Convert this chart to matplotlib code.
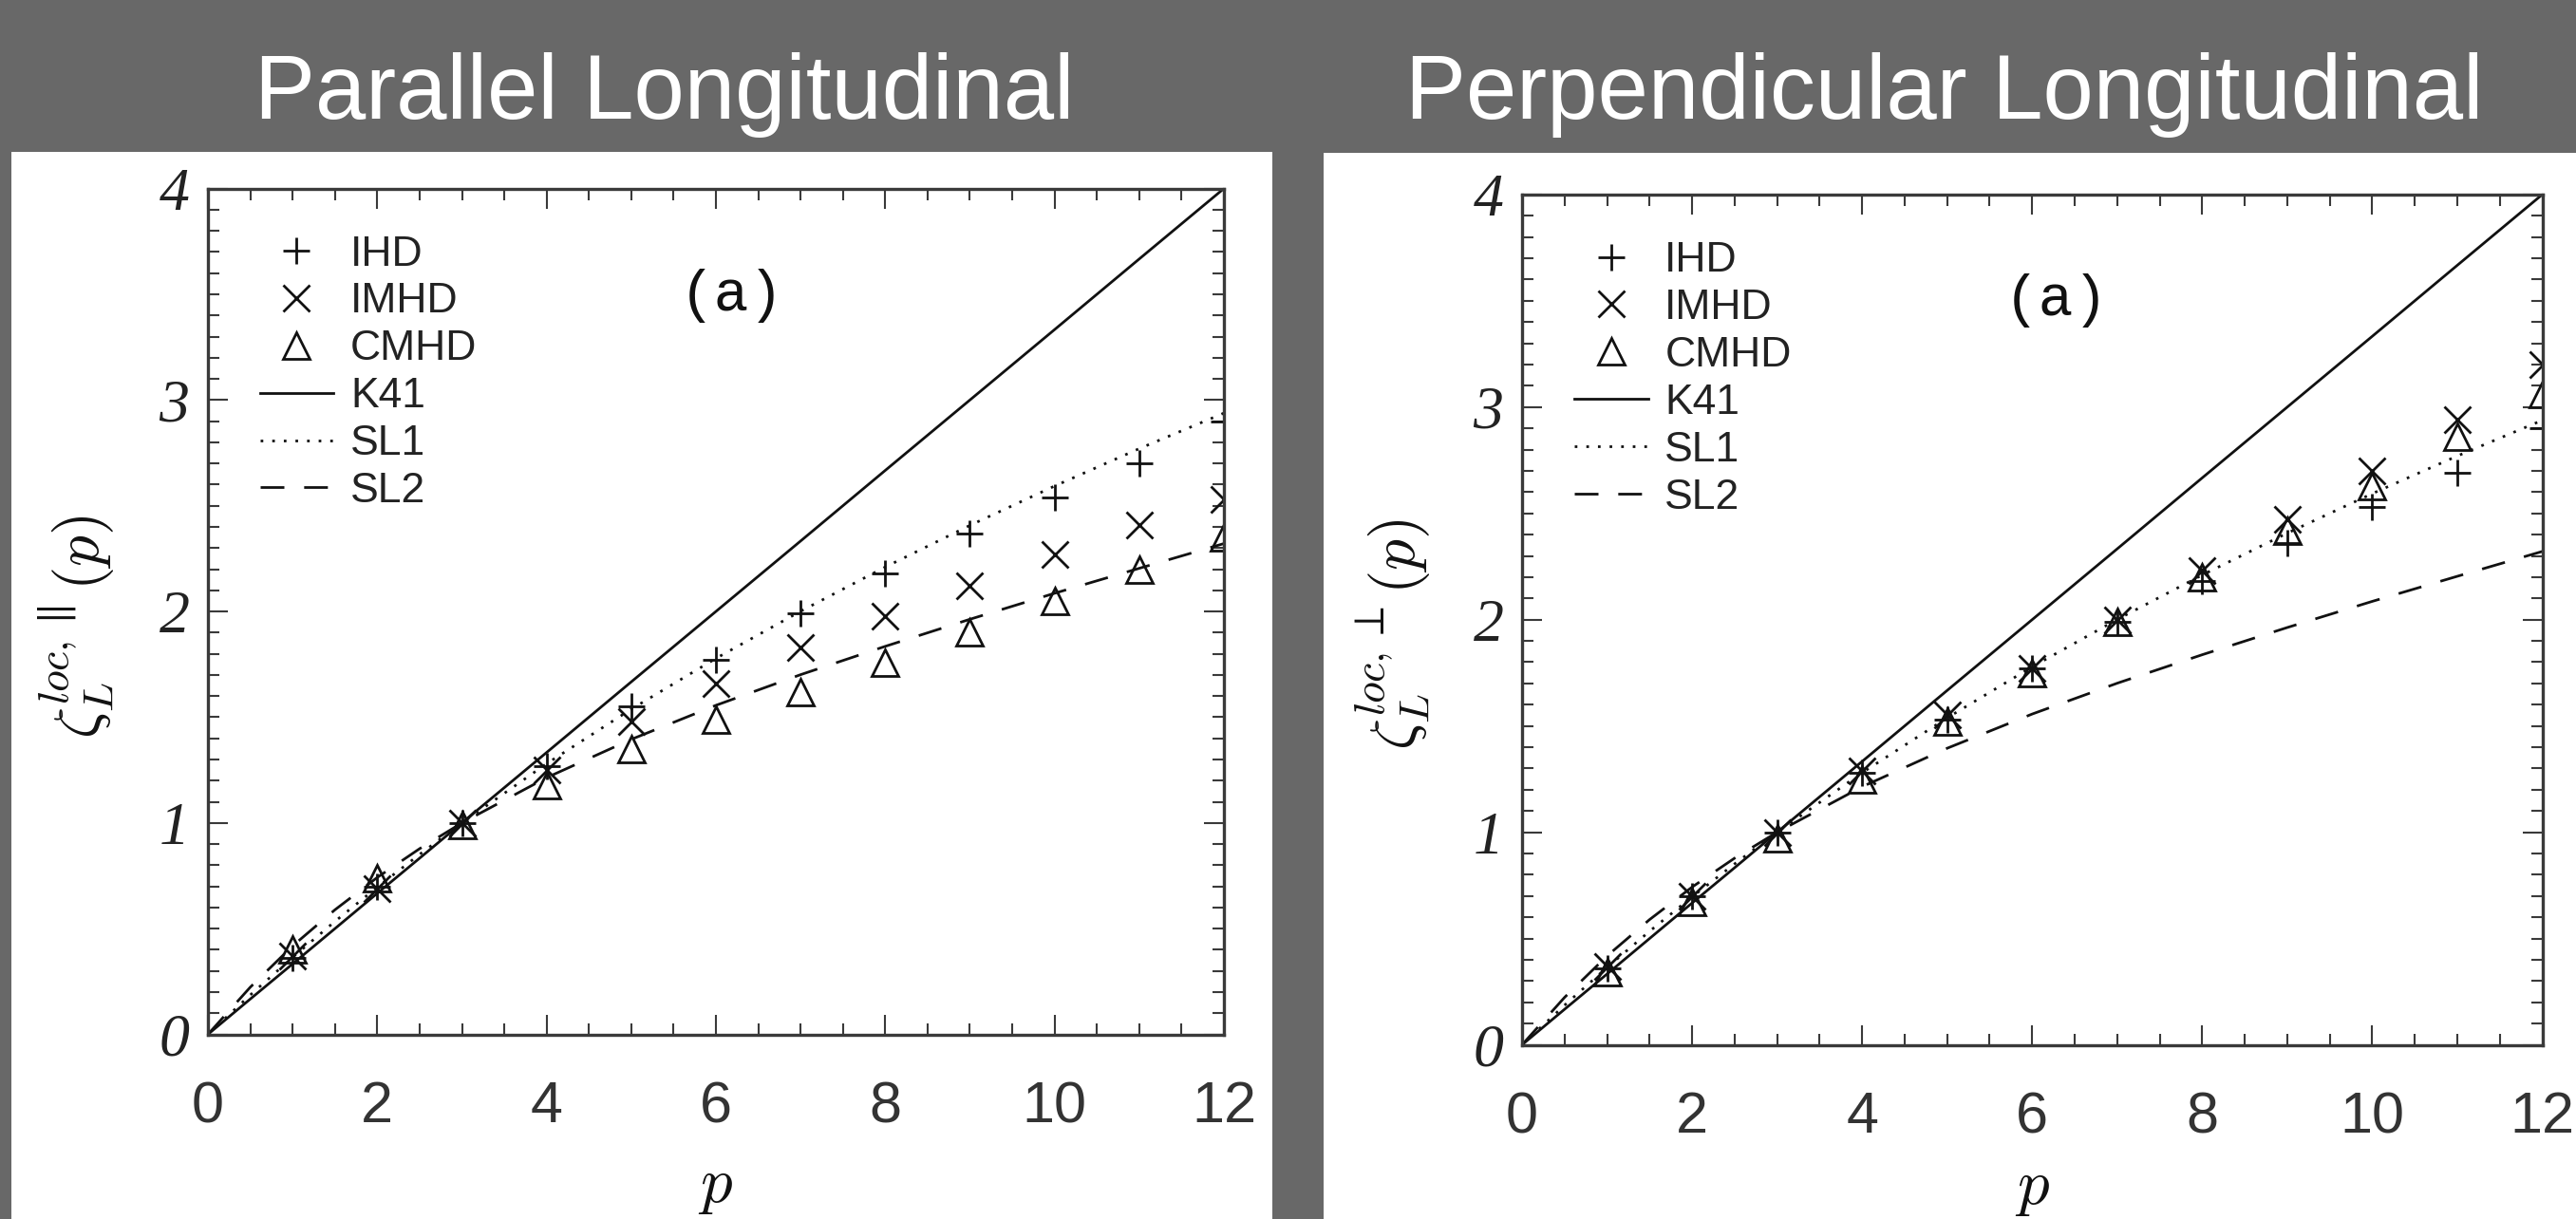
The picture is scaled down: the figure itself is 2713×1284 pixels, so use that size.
import matplotlib
matplotlib.use('Agg')
import matplotlib.pyplot as plt
from matplotlib.patches import Rectangle
from matplotlib.lines import Line2D
from matplotlib.ticker import MultipleLocator

plt.rcParams['mathtext.fontset'] = 'cm'

# ---------------- data ----------------
p_obs = [1, 2, 3, 4, 5, 6, 7, 8, 9, 10, 11, 12]

par_ihd = [0.36, 0.70, 1.00, 1.27, 1.55, 1.77, 1.99, 2.18, 2.37, 2.54, 2.70, 2.90]
par_imhd = [0.37, 0.69, 1.00, 1.25, 1.48, 1.66, 1.83, 1.98, 2.12, 2.27, 2.41, 2.53]
par_cmhd = [0.40, 0.74, 0.99, 1.18, 1.35, 1.49, 1.62, 1.76, 1.90, 2.05, 2.20, 2.35]

perp_ihd = [0.36, 0.70, 1.00, 1.28, 1.53, 1.77, 1.99, 2.18, 2.36, 2.53, 2.69, 2.90]
perp_imhd = [0.37, 0.70, 1.00, 1.29, 1.55, 1.77, 2.00, 2.23, 2.47, 2.70, 2.94, 3.20]
perp_cmhd = [0.34, 0.67, 0.97, 1.25, 1.52, 1.75, 1.99, 2.20, 2.42, 2.63, 2.86, 3.06]

p_model = [0, 0.5, 1, 1.5, 2, 2.5, 3, 4, 5, 6, 7, 8, 9, 10, 11, 12]
k41 = [0, 0.167, 0.333, 0.5, 0.667, 0.833, 1.0, 1.333, 1.667, 2.0, 2.333, 2.667, 3.0, 3.333, 3.667, 4.0]
sl1 = [0, 0.186, 0.364, 0.534, 0.696, 0.851, 1.0, 1.280, 1.538, 1.778, 2.001, 2.210, 2.407, 2.593, 2.770, 2.938]
sl2 = [0, 0.223, 0.418, 0.589, 0.742, 0.878, 1.0, 1.214, 1.395, 1.556, 1.701, 1.835, 1.963, 2.086, 2.204, 2.321]

x_ticks = [0, 2, 4, 6, 8, 10, 12]
y_ticks = [0, 1, 2, 3, 4]
legend_labels = ['IHD', 'IMHD', 'CMHD', 'K41', 'SL1', 'SL2']
titles = ['Parallel Longitudinal', 'Perpendicular Longitudinal']
ylabels = [r'$\zeta_{L}^{loc,\parallel}(p)$', r'$\zeta_{L}^{loc,\perp}(p)$']
xlabel = r'$p$'
panel_tag = '(a)'

# ---------------- figure ----------------
W, H = 2713, 1284
fig = plt.figure(figsize=(W / 100, H / 100), dpi=100)
fig.patch.set_facecolor('#686868')

def fx(px):
    return px / W

def fy(py):
    return 1 - py / H

# white panels
fig.add_artist(Rectangle((fx(12), 0), fx(1340) - fx(12), fy(160), transform=fig.transFigure,
                         facecolor='white', edgecolor='none', zorder=-5))
fig.add_artist(Rectangle((fx(1394), 0), 1 - fx(1394), fy(161), transform=fig.transFigure,
                         facecolor='white', edgecolor='none', zorder=-5))

# titles
fig.text(fx(700), fy(125), titles[0], ha='center', va='baseline', fontsize=69,
         color='white', family='Liberation Sans')
fig.text(fx(2048), fy(125), titles[1], ha='center', va='baseline', fontsize=69,
         color='white', family='Liberation Sans')

axes_px = [(219, 198.6, 1289, 1089.5), (1603, 204.9, 2677.5, 1100.5)]
ylabel_pos = [(80, 660), (1466, 668)]
xlabel_y = [1248, 1250]
data_sets = [(par_ihd, par_imhd, par_cmhd), (perp_ihd, perp_imhd, perp_cmhd)]
tag_pos = [(771, 311), (2166, 317)]

ink = '#111111'
spine_col = '#3a3a3a'

for i in range(2):
    l, t, r, b = axes_px[i]
    ax = fig.add_axes([fx(l), fy(b), fx(r) - fx(l), fy(t) - fy(b)])
    ax.set_facecolor('white')
    ihd, imhd, cmhd = data_sets[i]

    ax.plot(p_model, k41, '-', color=ink, lw=2.0)
    ax.plot(p_model, sl1, color=ink, lw=2.0, linestyle=(0, (1.0, 3.4)))
    ax.plot(p_model, sl2, color=ink, lw=2.0, linestyle=(0, (9.0, 7.5)))

    ax.plot(p_obs, ihd, linestyle='none', marker='+', ms=19.5, mew=2.0, color=ink)
    ax.plot(p_obs, imhd, linestyle='none', marker='x', ms=20.5, mew=2.0, color=ink)
    ax.plot(p_obs, cmhd, linestyle='none', marker='^', ms=19.5, mew=2.0, mfc='none', mec=ink)

    ax.set_xlim(0, 12)
    ax.set_ylim(0, 4)
    ax.xaxis.set_major_locator(MultipleLocator(2))
    ax.xaxis.set_minor_locator(MultipleLocator(0.5))
    ax.yaxis.set_major_locator(MultipleLocator(1))
    ax.yaxis.set_minor_locator(MultipleLocator(0.1))
    ax.set_xticks(x_ticks, [str(v) for v in x_ticks], fontsize=44,
                  family='Liberation Sans', color='#333333')
    ax.set_yticks(y_ticks, [str(v) for v in y_ticks], fontsize=46,
                  family='Liberation Serif', style='italic', color='#222222')
    ax.tick_params(which='both', direction='in', top=True, right=True,
                   color=spine_col, width=1.5)
    ax.tick_params(which='major', length=15)
    ax.tick_params(which='minor', length=8.5)
    ax.tick_params(axis='x', which='major', pad=35)
    ax.tick_params(axis='y', which='major', pad=14)
    for s in ax.spines.values():
        s.set_linewidth(2.4)
        s.set_color(spine_col)

    # axis labels
    ax.text(0.5, (b - xlabel_y[i]) / (b - t), xlabel, transform=ax.transAxes,
            ha='center', va='center', fontsize=48, color=ink, clip_on=False)
    yx, yy = ylabel_pos[i]
    ax.text((yx - l) / (r - l), (b - yy) / (b - t), ylabels[i], transform=ax.transAxes,
            ha='center', va='center', rotation=90, fontsize=47, color=ink, clip_on=False)

    tx, ty = tag_pos[i]
    ax.text((tx - l) / (r - l), (b - ty) / (b - t), panel_tag, transform=ax.transAxes,
            ha='center', va='center', fontsize=44, family='Liberation Mono', color=ink)

    handles = [
        Line2D([], [], linestyle='none', marker='+', ms=19.5, mew=2.0, color=ink),
        Line2D([], [], linestyle='none', marker='x', ms=20.5, mew=2.0, color=ink),
        Line2D([], [], linestyle='none', marker='^', ms=19.5, mew=2.0, mfc='none', mec=ink),
        Line2D([], [], linestyle='-', lw=2.0, color=ink),
        Line2D([], [], lw=2.0, color=ink, linestyle=(0, (1.0, 3.4))),
        Line2D([], [], lw=2.0, color=ink, linestyle=(0, (9.0, 7.5))),
    ]
    leg = ax.legend(handles, legend_labels, loc='upper left',
                    bbox_to_anchor=(0.051, 0.945), frameon=False,
                    prop={'family': 'Liberation Sans', 'size': 32},
                    handlelength=1.75, handletextpad=0.4, labelspacing=0.2,
                    borderpad=0, borderaxespad=0)
    for txt in leg.get_texts():
        txt.set_color('#222222')

fig.savefig('out.png', dpi=100, facecolor=fig.get_facecolor())
